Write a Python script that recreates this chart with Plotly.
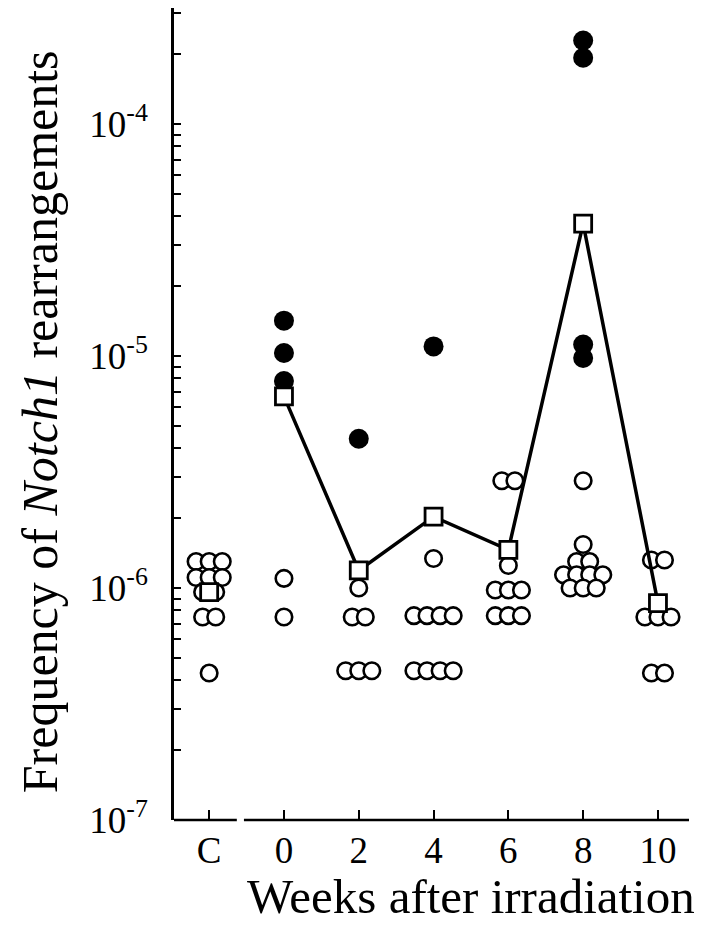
import plotly.graph_objects as go
import numpy as np

# ---------------- data ----------------
groups = ["C", "0", "2", "4", "6", "8", "10"]
group_x = [-2, 0, 2, 4, 6, 8, 10]

# open circles (individual mice)
open_C = [1.30e-6, 1.30e-6, 1.30e-6, 1.11e-6, 1.11e-6, 1.11e-6, 9.6e-7, 9.6e-7, 7.5e-7, 7.5e-7, 4.3e-7]
open_0 = [1.10e-6, 7.5e-7]
open_2 = [1.0e-6, 7.5e-7, 7.5e-7, 4.4e-7, 4.4e-7, 4.4e-7]
open_4 = [1.34e-6, 7.6e-7, 7.6e-7, 7.6e-7, 7.6e-7, 4.4e-7, 4.4e-7, 4.4e-7, 4.4e-7]
open_6 = [2.9e-6, 2.9e-6, 1.25e-6, 9.8e-7, 9.8e-7, 9.8e-7, 7.6e-7, 7.6e-7, 7.6e-7]
open_8 = [2.9e-6, 1.54e-6, 1.30e-6, 1.30e-6, 1.14e-6, 1.14e-6, 1.14e-6, 1.14e-6, 1.0e-6, 1.0e-6, 1.0e-6]
open_10 = [1.32e-6, 1.32e-6, 7.5e-7, 7.5e-7, 7.5e-7, 4.3e-7, 4.3e-7]

# filled circles
filled_0 = [1.42e-5, 1.03e-5, 7.8e-6]
filled_2 = [4.4e-6]
filled_4 = [1.1e-5]
filled_8 = [2.29e-4, 1.93e-4, 1.12e-5, 9.8e-6]

# group means (open squares)
mean_C = 9.6e-7
mean_weeks = [6.7e-6, 1.19e-6, 2.03e-6, 1.46e-6, 3.72e-5, 8.6e-7]
baseline = 9.5e-7

y_tick_vals = [1e-7, 1e-6, 1e-5, 1e-4]
y_tick_text = ["10<sup>-7</sup>", "10<sup>-6</sup>", "10<sup>-5</sup>", "10<sup>-4</sup>"]

# ---------------- helpers ----------------
SPREAD = 0.35  # horizontal spacing of tied points (weeks)


def swarm(center, values):
    xs, ys = [], []
    uniq = []
    for v in values:
        if v not in uniq:
            uniq.append(v)
    for v in uniq:
        n = values.count(v)
        for i in range(n):
            xs.append(center + (i - (n - 1) / 2) * SPREAD)
            ys.append(v)
    return xs, ys


open_sets = [open_C, open_0, open_2, open_4, open_6, open_8, open_10]
filled_sets = {0: filled_0, 2: filled_2, 4: filled_4, 8: filled_8}

ox, oy = [], []
for gx, vals in zip(group_x, open_sets):
    xs, ys = swarm(gx, vals)
    ox += xs
    oy += ys

fx, fy = [], []
for gx, vals in filled_sets.items():
    xs, ys = swarm(gx, vals)
    fx += xs
    fy += ys

fig = go.Figure()

fig.add_trace(go.Scatter(
    x=ox, y=oy, mode="markers",
    marker=dict(symbol="circle", size=16.5, color="white",
                line=dict(color="black", width=2.6)),
    hoverinfo="y"))

fig.add_trace(go.Scatter(
    x=fx, y=fy, mode="markers",
    marker=dict(symbol="circle", size=20, color="black",
                line=dict(color="black", width=0)),
    hoverinfo="y"))

fig.add_trace(go.Scatter(
    x=group_x[1:], y=mean_weeks, mode="lines+markers",
    line=dict(color="black", width=3.5),
    marker=dict(symbol="square", size=17, color="white",
                line=dict(color="black", width=2.8)),
    hoverinfo="y"))

fig.add_trace(go.Scatter(
    x=[group_x[0]], y=[mean_C], mode="markers",
    marker=dict(symbol="square", size=17, color="white",
                line=dict(color="black", width=2.8)),
    hoverinfo="y"))

x_range = [-2.94, 10.83]

shapes = [
    # dotted baseline
    dict(type="line", xref="x", yref="y", x0=group_x[0], x1=x_range[1],
         y0=np.log10(baseline), y1=np.log10(baseline),
         line=dict(color="black", width=3, dash="4px,3px"), layer="below"),
    # broken x axis
    dict(type="line", xref="x", yref="paper", x0=x_range[0], x1=-1.26, y0=0, y1=0,
         line=dict(color="black", width=2.5)),
    dict(type="line", xref="x", yref="paper", x0=-1.07, x1=x_range[1], y0=0, y1=0,
         line=dict(color="black", width=2.5)),
]

minor_vals = [m * 10.0 ** e for e in range(-7, -3) for m in range(2, 10)]

fig.update_layout(
    width=708, height=939,
    margin=dict(l=166, r=27, t=0, b=127),
    plot_bgcolor="white", paper_bgcolor="white",
    showlegend=False,
    font=dict(family="Liberation Serif", color="black"),
    shapes=shapes,
    xaxis=dict(range=x_range, tickvals=group_x, ticktext=groups,
               ticks="inside", ticklen=10, tickwidth=2, tickcolor="black",
               showline=False, showgrid=False, zeroline=False,
               tickfont=dict(size=37, family="Liberation Serif"),
               ticklabelstandoff=5),
    yaxis=dict(type="log", range=[-7, -3.5],
               tickvals=y_tick_vals, ticktext=y_tick_text,
               ticks="inside", ticklen=7, tickwidth=2, tickcolor="black",
               showline=True, linewidth=2.5, linecolor="black",
               showgrid=False, zeroline=False,
               tickfont=dict(size=37, family="Liberation Serif"),
               ticklabelstandoff=16,
               minor=dict(tickvals=minor_vals, ticks="inside", ticklen=7,
                          tickwidth=2, tickcolor="black", showgrid=False)),
    annotations=[
        dict(text="Weeks after irradiation", xref="paper", yref="paper",
             x=1.015, y=-0.094, xanchor="right", yanchor="middle",
             showarrow=False, font=dict(size=49, family="Liberation Serif")),
        dict(text="Frequency of <i>Notch1</i> rearrangements", xref="paper", yref="paper",
             x=-0.26, y=0.49, xanchor="center", yanchor="middle", textangle=-90,
             showarrow=False, font=dict(size=50, family="Liberation Serif")),
    ],
)

fig.write_html("out.html")
